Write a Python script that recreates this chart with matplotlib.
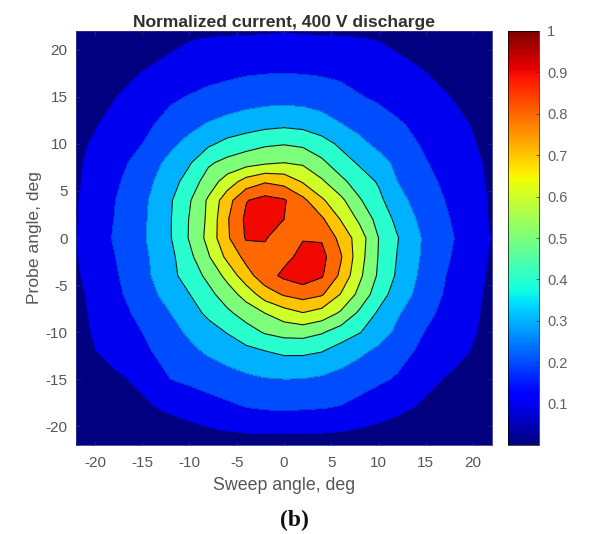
import numpy as np
import matplotlib.pyplot as plt
from matplotlib.cm import ScalarMappable
from matplotlib.colors import Normalize

plt.rcParams['font.family'] = ['Liberation Sans', 'DejaVu Sans']
plt.rcParams['axes.unicode_minus'] = False

sweep_angle = [-24, -21, -18, -15, -12, -10, -8, -6, -4, -2, 0, 2, 4, 6, 8, 10, 12, 15, 18, 21, 24]
probe_angle = [24, 21, 18, 15, 12, 10, 8, 6, 4, 2, 0, -2, -4, -6, -8, -10, -12, -15, -18, -21, -24]

# normalized current, one row per probe angle
current = [
    [.005, .01, .015, .02, .03, .035, .04, .045, .05, .055, .06, .055, .05, .045, .04, .035, .03, .02, .015, .01, .005],
    [.01, .018, .03, .05, .08, .098, .107, .11, .11, .112, .115, .112, .11, .11, .107, .098, .08, .05, .03, .018, .01],
    [.015, .03, .06, .095, .125, .145, .16, .17, .18, .185, .187, .185, .18, .17, .16, .145, .125, .095, .06, .03, .015],
    [.02, .05, .095, .14, .185, .205, .225, .24, .255, .262, .265, .26, .25, .235, .205, .185, .165, .13, .095, .05, .02],
    [.03, .08, .125, .175, .235, .273, .31, .335, .355, .375, .385, .375, .345, .305, .274, .243, .212, .17, .125, .08, .03],
    [.035, .095, .14, .20, .279, .33, .383, .43, .46, .485, .495, .48, .44, .382, .322, .278, .243, .185, .135, .09, .035],
    [.04, .105, .16, .24, .327, .39, .485, .53, .56, .585, .60, .585, .52, .445, .387, .333, .28, .205, .15, .10, .04],
    [.045, .11, .18, .26, .358, .445, .546, .646, .74, .79, .765, .69, .615, .525, .45, .39, .30, .225, .165, .105, .045],
    [.05, .115, .195, .275, .39, .49, .615, .76, .895, .935, .91, .825, .715, .625, .51, .425, .335, .24, .18, .11, .05],
    [.055, .115, .20, .28, .395, .505, .62, .79, .92, .955, .90, .87, .815, .695, .58, .465, .375, .26, .19, .11, .055],
    [.06, .12, .207, .285, .395, .508, .63, .785, .91, .905, .86, .895, .89, .77, .65, .50, .405, .28, .20, .115, .06],
    [.055, .115, .195, .275, .375, .475, .59, .725, .83, .88, .875, .925, .93, .81, .64, .495, .395, .275, .19, .11, .055],
    [.05, .11, .185, .267, .372, .445, .525, .63, .76, .86, .92, .955, .91, .78, .62, .485, .385, .262, .175, .105, .05],
    [.045, .10, .175, .25, .34, .398, .47, .55, .64, .75, .81, .84, .81, .695, .57, .445, .355, .25, .165, .10, .045],
    [.04, .095, .16, .225, .30, .358, .42, .48, .54, .60, .655, .695, .66, .585, .48, .385, .31, .225, .15, .095, .04],
    [.035, .09, .145, .20, .27, .315, .36, .405, .46, .51, .535, .54, .51, .455, .405, .345, .28, .195, .14, .09, .035],
    [.03, .085, .125, .18, .24, .277, .315, .345, .375, .40, .42, .42, .405, .36, .32, .28, .235, .175, .125, .08, .03],
    [.025, .05, .085, .115, .20, .22, .24, .26, .28, .295, .30, .298, .285, .265, .24, .215, .19, .12, .085, .05, .025],
    [.015, .03, .055, .085, .115, .135, .16, .18, .20, .21, .215, .21, .205, .195, .17, .145, .12, .085, .06, .035, .02],
    [.01, .02, .03, .04, .055, .065, .075, .085, .09, .092, .092, .092, .09, .085, .075, .065, .055, .04, .03, .02, .01],
    [.005, .01, .015, .02, .025, .03, .035, .04, .045, .048, .05, .048, .045, .04, .035, .03, .025, .02, .015, .01, .005],
]

levels = [.1, .2, .3, .4, .5, .6, .7, .8, .9]
angle_ticks = [-20, -15, -10, -5, 0, 5, 10, 15, 20]
cbar_ticks = [.1, .2, .3, .4, .5, .6, .7, .8, .9, 1]
cbar_labels = ['0.1', '0.2', '0.3', '0.4', '0.5', '0.6', '0.7', '0.8', '0.9', '1']

W, H = 589, 534
fig = plt.figure(figsize=(W / 100, H / 100), dpi=100)
ax = fig.add_axes([76 / W, (H - 445) / H, 416 / W, 414 / H])
cax = fig.add_axes([508 / W, (H - 445) / H, 31 / W, 414 / H])

# each band takes the jet colour of its lower level, as matlab contourf does
bounds = [0] + levels + [1.01]
band_colors = [plt.cm.jet(b) for b in bounds[:-1]]
ax.contourf(sweep_angle, probe_angle, current, levels=bounds, colors=band_colors)
ax.contour(sweep_angle, probe_angle, current, levels=levels[3:], colors='#101820', linewidths=0.8)
ax.contour(sweep_angle, probe_angle, current, levels=levels[:3], colors='#000050', linewidths=0.5, alpha=0.35)

ax.set_xlim(-22, 22)
ax.set_ylim(-22, 22)
ax.set_xticks(angle_ticks)
ax.set_yticks(angle_ticks)
ax.tick_params(direction='in', length=3, width=0.5, color='#303060', labelcolor='#555555', labelsize=11,
               top=True, right=True)
ax.tick_params(axis='x', pad=8)
ax.tick_params(axis='y', pad=6)
for s in ax.spines.values():
    s.set_linewidth(0.6)
    s.set_color('#303090')
ax.set_title('Normalized current, 400 V discharge', fontsize=12.6, fontweight='bold', pad=3, color='#303030')
ax.set_xlabel('Sweep angle, deg', fontsize=12.8, color='#555555', labelpad=5)
ax.set_ylabel('Probe angle, deg', fontsize=12.6, color='#555555', labelpad=3)

sm = ScalarMappable(norm=Normalize(0, 1), cmap='jet')
cb = fig.colorbar(sm, cax=cax)
cb.set_ticks(cbar_ticks, labels=cbar_labels)
cb.ax.tick_params(direction='in', length=2.5, width=0.5, color='#303030', labelcolor='#606060', labelsize=10.5, pad=6)
cb.outline.set_linewidth(0.5)

fig.text(294 / W, 1 - 520 / H, '(b)', family='Liberation Serif', fontweight='bold', fontsize=17,
         ha='center', va='center', color='#111111')

fig.savefig('out.png', dpi=100)
